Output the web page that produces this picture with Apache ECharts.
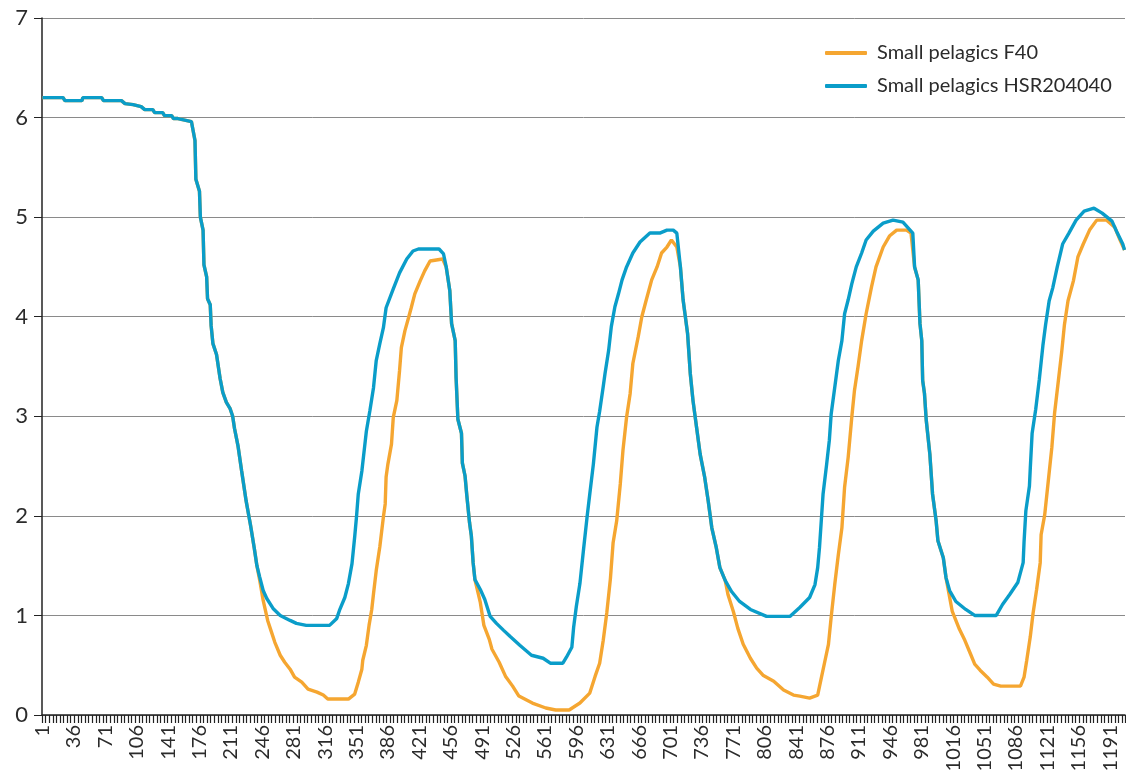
<!DOCTYPE html>
<html>
<head>
<meta charset="utf-8">
<script src="https://cdn.jsdelivr.net/npm/echarts@6/dist/echarts.min.js"></script>
<style>
html,body{margin:0;padding:0;background:#fff;}
#chart{width:1126px;height:778px;}
</style>
</head>
<body>
<div id="chart"></div>
<script>
// Category count (time steps 1..1207), labels every 35 steps
const nSteps = 1207;
const seriesNames = ['Small pelagics F40', 'Small pelagics HSR204040'];

const blueStep = [1,24,26,45,46,67,69,89,93,102,104,111,115,124,126,135,137,145,147,152,154,167,169,171,172,176,177,180,181,184,185,188,189,191,195,199,202,206,210,213,215,219,223,228,233,237,240,243,247,251,258,266,277,284,295,321,329,332,338,342,346,349,351,353,357,360,362,366,370,373,377,381,384,392,399,407,414,420,443,448,451,455,457,461,462,464,468,469,472,474,477,479,481,483,489,494,500,507,515,522,533,546,559,567,581,585,591,593,596,600,604,608,611,615,619,622,626,628,632,635,639,643,647,652,659,667,678,689,697,704,708,712,715,720,723,726,730,734,739,743,747,752,756,762,769,778,790,808,834,845,856,862,865,867,869,871,875,878,880,884,888,892,895,899,903,908,914,919,927,938,949,960,971,973,977,979,981,982,984,986,990,993,997,999,1005,1008,1012,1019,1030,1040,1064,1071,1079,1088,1094,1095,1097,1101,1102,1104,1108,1112,1116,1119,1123,1127,1132,1138,1145,1153,1162,1173,1182,1193,1199,1205,1207];
const blueVal = [6.2,6.2,6.17,6.17,6.2,6.2,6.17,6.17,6.14,6.13,6.11,6.11,6.08,6.08,6.05,6.05,6.02,6.02,5.99,5.99,5.97,5.96,5.94,5.77,5.38,5.26,5.0,4.87,4.52,4.4,4.18,4.12,3.91,3.73,3.62,3.38,3.24,3.14,3.08,3.0,2.88,2.7,2.45,2.15,1.9,1.68,1.5,1.39,1.25,1.17,1.07,1.0,0.95,0.92,0.9,0.9,0.97,1.05,1.18,1.32,1.52,1.79,1.99,2.22,2.45,2.69,2.85,3.06,3.29,3.56,3.73,3.89,4.09,4.28,4.44,4.58,4.66,4.68,4.68,4.63,4.5,4.26,3.93,3.76,3.39,2.97,2.83,2.53,2.4,2.2,1.93,1.8,1.53,1.36,1.26,1.16,0.99,0.92,0.85,0.79,0.7,0.6,0.57,0.52,0.52,0.58,0.68,0.88,1.09,1.32,1.66,1.99,2.22,2.52,2.89,3.05,3.3,3.43,3.66,3.9,4.1,4.23,4.37,4.5,4.64,4.75,4.84,4.84,4.87,4.87,4.84,4.5,4.17,3.83,3.43,3.16,2.89,2.62,2.39,2.15,1.88,1.68,1.48,1.35,1.24,1.14,1.06,0.99,0.99,1.08,1.18,1.31,1.48,1.68,1.95,2.22,2.52,2.76,3.02,3.29,3.56,3.76,4.03,4.17,4.33,4.5,4.64,4.77,4.86,4.94,4.97,4.95,4.84,4.5,4.37,3.93,3.76,3.36,3.23,2.96,2.62,2.22,1.95,1.75,1.58,1.38,1.25,1.14,1.06,1.0,1.0,1.11,1.21,1.33,1.53,1.74,2.05,2.3,2.49,2.83,3.07,3.37,3.71,3.92,4.16,4.29,4.5,4.73,4.84,4.97,5.06,5.09,5.04,4.96,4.84,4.73,4.67];

const orangeStep = [1,24,26,45,46,67,69,89,93,102,104,111,115,124,126,135,137,145,147,152,154,167,169,171,172,176,177,180,181,184,185,188,189,191,195,199,202,206,210,213,215,219,223,228,233,237,240,243,247,252,256,260,266,271,277,282,290,297,307,314,319,342,349,353,357,358,362,365,368,370,373,377,381,383,384,386,390,392,396,399,401,405,409,412,416,422,427,433,435,447,451,455,457,461,462,464,468,469,472,474,477,479,481,483,489,493,499,502,510,517,525,532,547,562,573,588,600,611,617,622,626,630,634,637,641,645,648,652,656,659,665,669,674,680,686,691,697,702,708,712,715,720,723,726,730,734,739,743,747,752,756,762,765,771,776,782,790,797,804,816,827,838,845,856,865,869,873,877,880,884,888,892,895,899,903,906,910,914,919,925,930,938,945,953,964,969,973,977,979,981,982,984,986,990,993,997,999,1005,1008,1015,1023,1029,1035,1040,1046,1054,1061,1069,1091,1095,1098,1102,1105,1109,1113,1114,1118,1122,1126,1129,1133,1137,1140,1144,1150,1155,1161,1168,1176,1187,1196,1202,1207];
const orangeVal = [6.2,6.2,6.17,6.17,6.2,6.2,6.17,6.17,6.14,6.13,6.11,6.11,6.08,6.08,6.05,6.05,6.02,6.02,5.99,5.99,5.97,5.96,5.94,5.77,5.38,5.26,5.0,4.87,4.52,4.4,4.18,4.12,3.91,3.73,3.62,3.38,3.24,3.14,3.08,3.0,2.88,2.7,2.45,2.15,1.9,1.68,1.5,1.36,1.15,0.95,0.84,0.73,0.6,0.53,0.46,0.38,0.33,0.26,0.23,0.2,0.16,0.16,0.21,0.33,0.46,0.55,0.7,0.9,1.06,1.22,1.45,1.69,1.99,2.12,2.39,2.52,2.72,2.99,3.16,3.46,3.69,3.86,3.99,4.09,4.23,4.36,4.46,4.56,4.58,4.58,4.5,4.26,3.93,3.76,3.39,2.97,2.83,2.53,2.4,2.2,1.93,1.8,1.53,1.36,1.13,0.9,0.76,0.66,0.53,0.39,0.29,0.19,0.12,0.07,0.05,0.05,0.12,0.22,0.39,0.52,0.75,1.03,1.37,1.73,1.95,2.32,2.66,2.99,3.23,3.53,3.8,4.0,4.17,4.37,4.5,4.64,4.7,4.77,4.7,4.5,4.17,3.83,3.43,3.16,2.89,2.62,2.39,2.15,1.88,1.68,1.48,1.35,1.21,1.04,0.87,0.71,0.57,0.47,0.4,0.34,0.25,0.2,0.19,0.17,0.2,0.37,0.54,0.71,0.98,1.31,1.61,1.88,2.29,2.59,2.99,3.26,3.5,3.76,4.03,4.3,4.5,4.7,4.81,4.87,4.87,4.84,4.5,4.37,3.93,3.76,3.36,3.23,2.96,2.62,2.22,1.95,1.75,1.58,1.38,1.04,0.86,0.75,0.62,0.51,0.45,0.38,0.31,0.29,0.29,0.38,0.55,0.79,1.02,1.26,1.53,1.81,2.01,2.35,2.69,3.03,3.34,3.65,3.92,4.16,4.36,4.6,4.73,4.87,4.97,4.97,4.9,4.77,4.67];

const yTicks = [0,1,2,3,4,5,6,7];

const categories = [];
for (let i = 1; i <= nSteps; i++) categories.push(String(i));

function pairs(steps, vals) {
  return steps.map((s, i) => [s - 1, vals[i]]);
}

const FONT = 'Lato, "Open Sans", sans-serif';
const chart = echarts.init(document.getElementById('chart'), null, {renderer: 'canvas'});
chart.setOption({
  animation: false,
  backgroundColor: '#ffffff',
  grid: {left: 42, right: 1, top: 18, bottom: 63, containLabel: false},
  legend: {
    orient: 'vertical',
    left: 820,
    top: 38,
    itemWidth: 42,
    itemHeight: 4,
    itemGap: 13,
    icon: 'roundRect',
    textStyle: {fontFamily: FONT, fontSize: 20, color: '#2b2b2b', padding: [0, 0, 0, 5]},
    data: seriesNames
  },
  xAxis: {
    type: 'category',
    data: categories,
    boundaryGap: true,
    axisLine: {show: true, lineStyle: {color: '#222', width: 1.5}},
    axisTick: {show: true, interval: 3, length: 8, lineStyle: {color: '#222', width: 1.2}},
    axisLabel: {
      interval: 34,
      rotate: 90,
      margin: 10,
      fontFamily: FONT,
      fontSize: 20,
      color: '#2b2b2b'
    },
    splitLine: {show: false}
  },
  yAxis: {
    type: 'value',
    min: yTicks[0],
    max: yTicks[yTicks.length - 1],
    interval: 1,
    axisLine: {show: true, lineStyle: {color: '#222', width: 1.5}},
    axisTick: {show: true, length: 8, lineStyle: {color: '#222'}},
    axisLabel: {margin: 14, fontFamily: FONT, fontSize: 22, color: '#2b2b2b'},
    splitLine: {show: true, lineStyle: {color: '#8a8a8a', width: 1}}
  },
  series: [
    {
      name: seriesNames[0],
      type: 'line',
      data: pairs(orangeStep, orangeVal),
      showSymbol: false,
      symbol: 'none',
      color: '#F5A631',
      lineStyle: {width: 3.4, color: '#F5A631'},
      z: 2
    },
    {
      name: seriesNames[1],
      type: 'line',
      data: pairs(blueStep, blueVal),
      showSymbol: false,
      symbol: 'none',
      color: '#0A9DC9',
      lineStyle: {width: 3.4, color: '#0A9DC9'},
      z: 3
    }
  ]
});
</script>
</body>
</html>
